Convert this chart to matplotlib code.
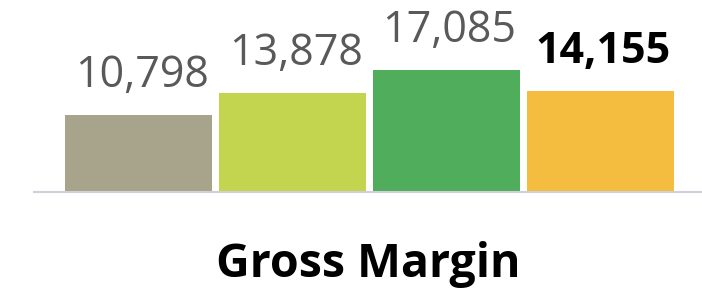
import matplotlib
matplotlib.use("Agg")
import matplotlib.pyplot as plt

categories = ["A", "B", "C", "D"]
values = [10798, 13878, 17085, 14155]
labels = ["10,798", "13,878", "17,085", "14,155"]
colors = ["#a8a48b", "#c3d54f", "#4fad5c", "#f4bd3f"]
label_colors = ["#595959", "#595959", "#595959", "#000000"]
label_weights = ["normal", "normal", "normal", "bold"]
title = "Gross Margin"

plt.rcParams['font.family'] = ['Open Sans', 'DejaVu Sans']

fig = plt.figure(figsize=(7.02, 2.95), dpi=100)
ax = fig.add_axes([34/702, 1 - 192/295, 668/702, 192/295])
x = list(range(len(values)))
ax.bar(x, values, width=0.955, color=colors, zorder=2)
ax.set_xlim(-0.68, 3.66)
ax.set_ylim(0, 26930)
for s in ["top", "right", "left"]:
    ax.spines[s].set_visible(False)
ax.spines["bottom"].set_color("#d0d0da")
ax.spines["bottom"].set_linewidth(1.5)
ax.set_xticks([])
ax.set_yticks([])
for xi, v, lab, c, w in zip(x, values, labels, label_colors, label_weights):
    ax.annotate(lab, (xi, v), xytext=(3, 28), textcoords="offset pixels",
                ha="center", va="baseline", fontsize=31, color=c, fontweight=w)
fig.text(368/702, 1 - 277/295, title, ha="center", va="baseline",
         fontsize=33.5, fontweight="bold", color="#000000")
fig.savefig("out.png", dpi=100)
